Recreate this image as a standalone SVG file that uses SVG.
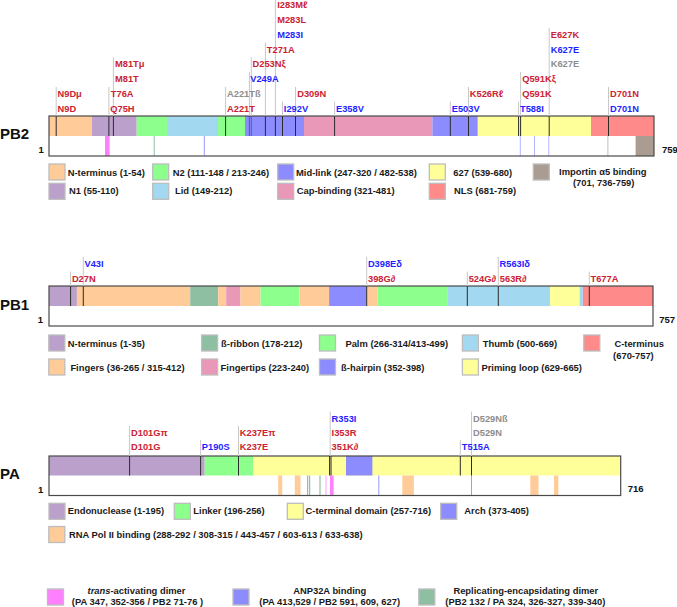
<svg xmlns="http://www.w3.org/2000/svg" width="677" height="607" viewBox="0 0 677 607">
<style>
text{font-family:"Liberation Sans",Arial,Helvetica,sans-serif;font-weight:bold}
.m{font-size:9.3px}
.r{fill:#CC2233}.b{fill:#1F1FFF}.g{fill:#8E8E8E}
.lg{font-size:9.4px;fill:#1a1a1a}
.c{text-anchor:middle}
.t{font-size:15px;fill:#111}
.n{font-size:9.5px;fill:#111}
.gl{stroke:#C8C8C8;stroke-width:1}
.dl{stroke:#2a2a2a;stroke-width:1}
.bx{stroke:#BDBDBD;stroke-width:1.3}
.ol{fill:none;stroke:#4a4a4a;stroke-width:1.2}
.peach{fill:#FFCC99}.purp{fill:#BBA0CC}.grn{fill:#8CFF8C}.lblu{fill:#A3D9F0}.blu{fill:#8C8CFF}.pink{fill:#EA98B8}.yel{fill:#FFFF99}.sal{fill:#FF8A8A}.brn{fill:#AA9C90}.teal{fill:#8FBFA3}.mag{fill:#FF80FF}
.mk{stroke-width:1}
</style>

<!-- ================= PB2 ================= -->
<g id="pb2">
  <text class="t" x="0" y="139">PB2</text>
  <text class="n" x="38.5" y="152.5">1</text>
  <text class="n" x="662" y="152.5">759</text>
  <rect x="49" y="116" width="605" height="40" fill="#fff"/>
  <rect class="peach" x="49" y="116" width="43" height="20"/>
  <rect class="purp" x="92" y="116" width="44.7" height="20"/>
  <rect class="grn" x="136.7" y="116" width="30.3" height="20"/>
  <rect class="lblu" x="167" y="116" width="51" height="20"/>
  <rect class="grn" x="218" y="116" width="27" height="20"/>
  <rect class="blu" x="245" y="116" width="59" height="20"/>
  <rect class="pink" x="304" y="116" width="128.4" height="20"/>
  <rect class="blu" x="432.4" y="116" width="45.4" height="20"/>
  <rect class="yel" x="477.8" y="116" width="113.2" height="20"/>
  <rect class="sal" x="591" y="116" width="63" height="20"/>
  <!-- white bar markers -->
  <rect class="mag" x="105" y="136" width="4.6" height="20"/>
  <line x1="154.2" y1="136" x2="154.2" y2="156" stroke="#8FBFA3" class="mk"/>
  <line x1="204.3" y1="136" x2="204.3" y2="156" stroke="#9A9AFF" class="mk"/>
  <line x1="520.3" y1="136" x2="520.3" y2="156" stroke="#B4B4FF" class="mk"/>
  <line x1="534.5" y1="136" x2="534.5" y2="156" stroke="#B4B4FF" class="mk"/>
  <line x1="548.8" y1="136" x2="548.8" y2="156" stroke="#B4B4FF" class="mk"/>
  <line x1="607.9" y1="136" x2="607.9" y2="156" stroke="#C8BEB4" class="mk"/>
  <rect class="brn" x="635.6" y="136" width="18.4" height="20"/>
  <rect class="ol" x="49" y="116" width="605" height="40"/>
</g>

<!-- ================= PB1 ================= -->
<g id="pb1">
  <text class="t" x="0" y="310">PB1</text>
  <text class="n" x="37.7" y="322.6">1</text>
  <text class="n" x="659.3" y="322.6">757</text>
  <rect x="49" y="286" width="604" height="40" fill="#fff"/>
  <rect class="purp" x="49" y="286" width="27.9" height="20"/>
  <rect class="peach" x="76.9" y="286" width="113.3" height="20"/>
  <rect class="teal" x="190.2" y="286" width="28" height="20"/>
  <rect class="peach" x="218.2" y="286" width="8" height="20"/>
  <rect class="pink" x="226.2" y="286" width="14.3" height="20"/>
  <rect class="peach" x="240.5" y="286" width="20" height="20"/>
  <rect class="grn" x="260.5" y="286" width="39.1" height="20"/>
  <rect class="peach" x="299.6" y="286" width="29.5" height="20"/>
  <rect class="blu" x="329.1" y="286" width="37.5" height="20"/>
  <rect class="peach" x="366.6" y="286" width="11.2" height="20"/>
  <rect class="grn" x="377.8" y="286" width="69.4" height="20"/>
  <rect class="lblu" x="447.2" y="286" width="102.9" height="20"/>
  <rect class="yel" x="550.1" y="286" width="29.6" height="20"/>
  <rect class="lblu" x="579.7" y="286" width="3.2" height="20"/>
  <rect class="sal" x="582.9" y="286" width="70.1" height="20"/>
  <rect class="ol" x="49" y="286" width="604" height="40"/>
</g>

<!-- ================= PA ================= -->
<g id="pa">
  <text class="t" x="0" y="479">PA</text>
  <text class="n" x="38" y="492.5">1</text>
  <text class="n" x="627.7" y="491.6">716</text>
  <rect x="49" y="456" width="571.7" height="39.5" fill="#fff"/>
  <rect class="purp" x="49" y="456" width="155.7" height="19.5"/>
  <rect class="grn" x="204.7" y="456" width="48.7" height="19.5"/>
  <rect class="yel" x="253.4" y="456" width="367.3" height="19.5"/>
  <rect class="blu" x="346" y="456" width="26.4" height="19.5"/>
  <!-- white bar markers -->
  <rect class="peach" x="278.2" y="475.5" width="4" height="20"/>
  <rect class="peach" x="294.8" y="475.5" width="5.7" height="20"/>
  <rect class="peach" x="402.3" y="475.5" width="11.6" height="20"/>
  <rect class="peach" x="530.3" y="475.5" width="8.2" height="20"/>
  <rect class="peach" x="554" y="475.5" width="4.4" height="20"/>
  <line x1="307.7" y1="475.5" x2="307.7" y2="495.5" stroke="#7FB094" class="mk"/>
  <line x1="309.7" y1="475.5" x2="309.7" y2="495.5" stroke="#7FB094" class="mk"/>
  <line x1="320" y1="475.5" x2="320" y2="495.5" stroke="#7FB094" class="mk"/>
  <line x1="326" y1="475.5" x2="326" y2="495.5" stroke="#FFA0FF" class="mk"/>
  <rect class="mag" x="330" y="475.5" width="3.6" height="20"/>
  <line x1="378.8" y1="475.5" x2="378.8" y2="495.5" stroke="#9A9AFF" class="mk"/>
  <line x1="471.5" y1="475.5" x2="471.5" y2="495.5" stroke="#9A9AFF" class="mk"/>
  <rect class="ol" x="49" y="456" width="571.7" height="39.5"/>
</g>

<!-- ================= connectors (mutation position lines) ================= -->
<g id="connectors">
  <!-- PB2 -->
  <line class="gl" x1="56.2" y1="87" x2="56.2" y2="116"/><line class="dl" x1="56.2" y1="116" x2="56.2" y2="136"/>
  <line class="gl" x1="108.9" y1="87" x2="108.9" y2="116"/><line class="dl" x1="108.9" y1="116" x2="108.9" y2="136"/>
  <line class="gl" x1="113.4" y1="57.3" x2="113.4" y2="116"/><line class="dl" x1="113.4" y1="116" x2="113.4" y2="136"/>
  <line class="gl" x1="225.6" y1="87" x2="225.6" y2="116"/><line class="dl" x1="225.6" y1="116" x2="225.6" y2="136"/>
  <line class="gl" x1="249.4" y1="72" x2="249.4" y2="116"/><line class="dl" x1="249.4" y1="116" x2="249.4" y2="136" stroke-opacity="0.5"/>
  <line class="gl" x1="251.3" y1="57.3" x2="251.3" y2="116"/><line class="dl" x1="251.3" y1="116" x2="251.3" y2="136" stroke-opacity="0.5"/>
  <line class="gl" x1="265.4" y1="42.6" x2="265.4" y2="116"/><line class="dl" x1="265.4" y1="116" x2="265.4" y2="136"/>
  <line class="gl" x1="275.4" y1="0" x2="275.4" y2="116"/><line class="dl" x1="275.4" y1="116" x2="275.4" y2="136"/>
  <line class="gl" x1="282.5" y1="101.6" x2="282.5" y2="116"/><line class="dl" x1="282.5" y1="116" x2="282.5" y2="136"/>
  <line class="gl" x1="295.5" y1="87" x2="295.5" y2="116"/><line class="dl" x1="295.5" y1="116" x2="295.5" y2="136"/>
  <line class="gl" x1="334.6" y1="101.6" x2="334.6" y2="116"/><line class="dl" x1="334.6" y1="116" x2="334.6" y2="136"/>
  <line class="gl" x1="450.3" y1="101.6" x2="450.3" y2="116"/><line class="dl" x1="450.3" y1="116" x2="450.3" y2="136"/>
  <line class="gl" x1="468.5" y1="87" x2="468.5" y2="116"/><line class="dl" x1="468.5" y1="116" x2="468.5" y2="136"/>
  <line class="gl" x1="518.6" y1="101.6" x2="518.6" y2="116"/><line class="dl" x1="518.6" y1="116" x2="518.6" y2="136"/>
  <line class="gl" x1="520.6" y1="72" x2="520.6" y2="116"/><line class="dl" x1="520.6" y1="116" x2="520.6" y2="136"/>
  <line class="gl" x1="549.2" y1="27.8" x2="549.2" y2="116"/><line class="dl" x1="549.2" y1="116" x2="549.2" y2="136"/>
  <line class="gl" x1="608.5" y1="87" x2="608.5" y2="116"/><line class="dl" x1="608.5" y1="116" x2="608.5" y2="136"/>
  <!-- PB1 -->
  <line class="gl" x1="70.6" y1="271.6" x2="70.6" y2="286"/><line class="dl" x1="70.6" y1="286" x2="70.6" y2="306"/>
  <line class="gl" x1="83.3" y1="256.8" x2="83.3" y2="286"/><line class="dl" x1="83.3" y1="286" x2="83.3" y2="306"/>
  <line class="gl" x1="366.7" y1="256.8" x2="366.7" y2="286"/><line class="dl" x1="366.7" y1="286" x2="366.7" y2="306"/>
  <line class="gl" x1="467.3" y1="271.6" x2="467.3" y2="286"/><line class="dl" x1="467.3" y1="286" x2="467.3" y2="306"/>
  <line class="gl" x1="498.3" y1="256.8" x2="498.3" y2="286"/><line class="dl" x1="498.3" y1="286" x2="498.3" y2="306"/>
  <line class="gl" x1="589.3" y1="271.6" x2="589.3" y2="286"/><line class="dl" x1="589.3" y1="286" x2="589.3" y2="306"/>
  <!-- PA -->
  <line class="gl" x1="129.6" y1="426" x2="129.6" y2="456"/><line class="dl" x1="129.6" y1="456" x2="129.6" y2="475.5"/>
  <line class="gl" x1="200.6" y1="440" x2="200.6" y2="456"/><line class="dl" x1="200.6" y1="456" x2="200.6" y2="475.5"/>
  <line class="gl" x1="238.5" y1="426" x2="238.5" y2="456"/><line class="dl" x1="238.5" y1="456" x2="238.5" y2="475.5"/>
  <line class="gl" x1="330.2" y1="411.6" x2="330.2" y2="456"/><line class="dl" x1="329.6" y1="456" x2="329.6" y2="475.5"/><line class="dl" x1="331" y1="456" x2="331" y2="475.5"/>
  <line class="gl" x1="460.3" y1="440" x2="460.3" y2="456"/><line class="dl" x1="460.3" y1="456" x2="460.3" y2="475.5"/>
  <line class="gl" x1="471.5" y1="411.6" x2="471.5" y2="456"/><line class="dl" x1="471.5" y1="456" x2="471.5" y2="475.5"/>
</g>

<!-- ================= mutation labels ================= -->
<g id="pb2-labels" class="m">
  <text class="r" x="57.5" y="111.6">N9D</text>
  <text class="r" x="110.3" y="111.6">Q75H</text>
  <text class="r" x="227" y="111.6">A221T</text>
  <text class="b" x="283.8" y="111.6">I292V</text>
  <text class="b" x="336" y="111.6">E358V</text>
  <text class="b" x="451.7" y="111.6">E503V</text>
  <text class="b" x="520" y="111.6">T588I</text>
  <text class="b" x="610" y="111.6">D701N</text>
  <text class="r" x="57.5" y="96.9">N9Dμ</text>
  <text class="r" x="110.8" y="96.9">T76A</text>
  <text class="g" x="227" y="96.9">A221Tß</text>
  <text class="r" x="297.2" y="96.9">D309N</text>
  <text class="r" x="469.8" y="96.9">K526Rℓ</text>
  <text class="r" x="522.2" y="96.9">Q591K</text>
  <text class="r" x="610" y="96.9">D701N</text>
  <text class="r" x="115" y="82.1">M81T</text>
  <text class="b" x="250.2" y="82.1">V249A</text>
  <text class="r" x="522.2" y="82.1">Q591Kξ</text>
  <text class="r" x="115" y="67.3">M81Tμ</text>
  <text class="r" x="252.5" y="67.3">D253Nξ</text>
  <text class="g" x="550.7" y="67.3">K627E</text>
  <text class="r" x="266.8" y="52.6">T271A</text>
  <text class="b" x="550.7" y="52.6">K627E</text>
  <text class="b" x="277.2" y="37.8">M283I</text>
  <text class="r" x="550.7" y="37.8">E627K</text>
  <text class="r" x="277.2" y="23.1">M283L</text>
  <text class="r" x="277.2" y="8.3">I283Mℓ</text>
</g>
<g id="pb1-labels" class="m">
  <text class="r" x="71.9" y="281.6">D27N</text>
  <text class="b" x="84.5" y="266.8">V43I</text>
  <text class="r" x="368" y="281.6">398G∂</text>
  <text class="b" x="367.9" y="266.8">D398Eδ</text>
  <text class="r" x="468.7" y="281.6">524G∂</text>
  <text class="r" x="499.8" y="281.6">563R∂</text>
  <text class="b" x="499.5" y="266.8">R563Iδ</text>
  <text class="r" x="590.5" y="281.6">T677A</text>
</g>
<g id="pa-labels" class="m">
  <text class="r" x="131" y="450">D101G</text>
  <text class="r" x="131" y="435.8">D101Gπ</text>
  <text class="b" x="201.8" y="450">P190S</text>
  <text class="r" x="239.8" y="450">K237E</text>
  <text class="r" x="239.8" y="435.8">K237Eπ</text>
  <text class="r" x="331.6" y="450">351K∂</text>
  <text class="r" x="331.6" y="435.8">I353R</text>
  <text class="b" x="331.6" y="421.6">R353I</text>
  <text class="b" x="461.8" y="450">T515A</text>
  <text class="g" x="473" y="435.8">D529N</text>
  <text class="g" x="473" y="421.6">D529Nß</text>
</g>

<!-- ================= legends ================= -->
<g id="pb2-legend" class="lg">
  <rect class="peach bx" x="49" y="164" width="16" height="16"/><text x="67.7" y="175.6">N-terminus (1-54)</text>
  <rect class="purp bx" x="49" y="183.3" width="16" height="16"/><text x="69" y="194">N1 (55-110)</text>
  <rect class="grn bx" x="152.7" y="164" width="16" height="16"/><text x="172.7" y="175.6">N2 (111-148 / 213-246)</text>
  <rect class="lblu bx" x="152.7" y="183.3" width="16" height="16"/><text x="175" y="194">Lid (149-212)</text>
  <rect class="blu bx" x="277.7" y="164" width="16" height="16"/><text x="296" y="175.6">Mid-link (247-320 / 482-538)</text>
  <rect class="pink bx" x="277.7" y="183.3" width="16" height="16"/><text x="296.7" y="194">Cap-binding (321-481)</text>
  <rect class="yel bx" x="429.3" y="164" width="16" height="16"/><text x="453.3" y="175.6">627 (539-680)</text>
  <rect class="sal bx" x="429.3" y="183.3" width="16" height="16"/><text x="454" y="194">NLS (681-759)</text>
  <rect class="brn bx" x="533.3" y="164" width="16" height="16"/><text class="c" x="602.8" y="175">Importin α5 binding</text><text class="c" x="603.7" y="185.6">(701, 736-759)</text>
</g>
<g id="pb1-legend" class="lg">
  <rect class="purp bx" x="48.8" y="335" width="16" height="16"/><text x="67.8" y="346.6">N-terminus (1-35)</text>
  <rect class="peach bx" x="48.8" y="359" width="16" height="16"/><text x="70.4" y="370.6">Fingers (36-265 / 315-412)</text>
  <rect class="teal bx" x="201.6" y="335" width="16" height="16"/><text x="221.1" y="346.6">ß-ribbon (178-212)</text>
  <rect class="pink bx" x="201.6" y="359" width="16" height="16"/><text x="220.6" y="370.6">Fingertips (223-240)</text>
  <rect class="grn bx" x="319.5" y="335" width="16" height="16"/><text x="345.4" y="346.6">Palm (266-314/413-499)</text>
  <rect class="blu bx" x="319.5" y="359" width="16" height="16"/><text x="341.1" y="370.6">ß-hairpin (352-398)</text>
  <rect class="lblu bx" x="462.4" y="335" width="16" height="16"/><text x="482.7" y="346.6">Thumb (500-669)</text>
  <rect class="yel bx" x="462.4" y="359" width="16" height="16"/><text x="481.4" y="370.6">Priming loop (629-665)</text>
  <rect class="sal bx" x="583.8" y="335" width="16" height="16"/><text x="614.4" y="346.6">C-terminus</text><text x="613.1" y="358.6">(670-757)</text>
</g>
<g id="pa-legend" class="lg">
  <rect class="purp bx" x="49" y="503.3" width="16" height="16"/><text x="67.7" y="514">Endonuclease (1-195)</text>
  <rect class="grn bx" x="174.3" y="503.3" width="16" height="16"/><text x="193.3" y="514">Linker (196-256)</text>
  <rect class="yel bx" x="287.3" y="503.3" width="16" height="16"/><text x="305.5" y="514">C-terminal domain (257-716)</text>
  <rect class="blu bx" x="440.7" y="503.3" width="16" height="16"/><text x="464.3" y="514">Arch (373-405)</text>
  <rect class="peach bx" x="48.8" y="526.5" width="16" height="16"/><text x="69" y="537.6">RNA Pol II binding (288-292 / 308-315 / 443-457 / 603-613 / 633-638)</text>
</g>
<g id="interaction-legend" class="lg">
  <rect class="mag bx" x="47.5" y="589" width="16" height="16"/>
  <text class="c" x="136.5" y="594"><tspan font-style="italic">trans</tspan>-activating dimer</text>
  <text class="c" x="137.5" y="605">(PA 347, 352-356 / PB2 71-76 )</text>
  <rect class="blu bx" x="233" y="589" width="16" height="16"/>
  <text class="c" x="329.7" y="594">ANP32A binding</text>
  <text class="c" x="329.7" y="605">(PA 413,529 / PB2 591, 609, 627)</text>
  <rect class="teal bx" x="418.8" y="589" width="16" height="16"/>
  <text class="c" x="525.8" y="594">Replicating-encapsidating dimer</text>
  <text class="c" x="525.3" y="605">(PB2 132 / PA 324, 326-327, 339-340)</text>
</g>
</svg>
